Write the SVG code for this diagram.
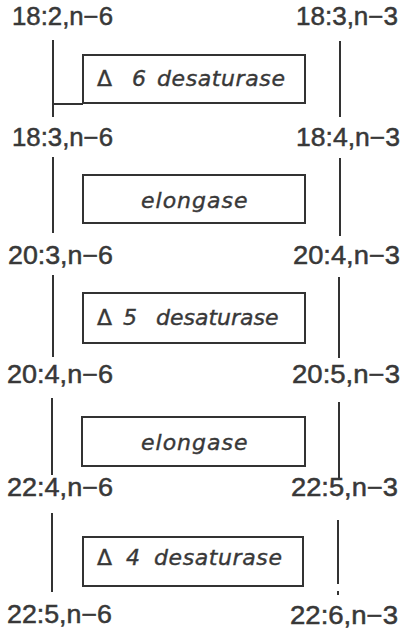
<svg xmlns="http://www.w3.org/2000/svg" width="401" height="629" viewBox="0 0 401 629">
  <style>
    .lbl { font-family: "Liberation Sans", Arial, sans-serif; font-size: 25px; fill: #383838; stroke: #383838; stroke-width: 0.5; }
    .enz { font-family: "DejaVu Sans", "Liberation Sans", sans-serif; font-size: 22px; font-style: oblique; fill: #383838; stroke: #383838; stroke-width: 0.4; }
    .up { font-style: normal; }
    .wide { letter-spacing: 0.6px; }
    .elo { letter-spacing: 1px; }
    .box { fill: #ffffff; stroke: #333333; stroke-width: 2; }
    .ln { stroke: #333333; stroke-width: 2; fill: none; }
  </style>

  <!-- fatty acid labels, n-6 series (left) -->
  <g id="n6-18-2"><text class="lbl" x="12" y="25" textLength="101" lengthAdjust="spacingAndGlyphs">18:2,n−6</text></g>
  <g id="n6-18-3"><text class="lbl" x="12" y="146" textLength="101" lengthAdjust="spacingAndGlyphs">18:3,n−6</text></g>
  <g id="n6-20-3"><text class="lbl" x="8" y="264" textLength="105" lengthAdjust="spacingAndGlyphs">20:3,n−6</text></g>
  <g id="n6-20-4"><text class="lbl" x="7" y="383" textLength="106" lengthAdjust="spacingAndGlyphs">20:4,n−6</text></g>
  <g id="n6-22-4"><text class="lbl" x="7" y="496" textLength="106" lengthAdjust="spacingAndGlyphs">22:4,n−6</text></g>
  <g id="n6-22-5"><text class="lbl" x="7" y="623" textLength="105" lengthAdjust="spacingAndGlyphs">22:5,n−6</text></g>

  <!-- fatty acid labels, n-3 series (right) -->
  <g id="n3-18-3"><text class="lbl" x="296" y="25" textLength="102" lengthAdjust="spacingAndGlyphs">18:3,n−3</text></g>
  <g id="n3-18-4"><text class="lbl" x="296" y="146" textLength="104" lengthAdjust="spacingAndGlyphs">18:4,n−3</text></g>
  <g id="n3-20-4"><text class="lbl" x="293" y="264" textLength="107" lengthAdjust="spacingAndGlyphs">20:4,n−3</text></g>
  <g id="n3-20-5"><text class="lbl" x="292" y="383" textLength="108" lengthAdjust="spacingAndGlyphs">20:5,n−3</text></g>
  <g id="n3-22-5"><text class="lbl" x="291" y="496" textLength="107" lengthAdjust="spacingAndGlyphs">22:5,n−3</text></g>
  <g id="n3-22-6"><text class="lbl" x="290" y="624" textLength="108" lengthAdjust="spacingAndGlyphs">22:6,n−3</text></g>

  <!-- enzyme boxes -->
  <g id="d6-desaturase">
    <rect class="box" x="83" y="55" width="222" height="48"/>
    <text class="enz" x="97" y="86"><tspan class="up">Δ</tspan><tspan x="132">6</tspan><tspan class="wide" x="157">desaturase</tspan></text>
  </g>
  <g id="elongase-1">
    <rect class="box" x="83" y="175" width="222" height="48"/>
    <text class="enz elo" x="141" y="208">elongase</text>
  </g>
  <g id="d5-desaturase">
    <rect class="box" x="83" y="293" width="222" height="50"/>
    <text class="enz" x="97" y="325"><tspan class="up">Δ</tspan><tspan x="123">5</tspan><tspan x="156">desaturase</tspan></text>
  </g>
  <g id="elongase-2">
    <rect class="box" x="82" y="417" width="223" height="49"/>
    <text class="enz elo" x="141" y="450">elongase</text>
  </g>
  <g id="d4-desaturase">
    <rect class="box" x="83" y="537" width="220" height="49"/>
    <text class="enz" x="97" y="565"><tspan class="up">Δ</tspan><tspan x="126">4</tspan><tspan class="wide" x="154">desaturase</tspan></text>
  </g>

  <!-- conversion lines -->
  <g id="connectors">
    <path class="ln" d="M53 40 V117 M53 104 H83"/>
    <path class="ln" d="M340 41 V117"/>
    <path class="ln" d="M53 157 V233"/>
    <path class="ln" d="M340 158 V236"/>
    <path class="ln" d="M53 275 V357"/>
    <path class="ln" d="M339 277 V358"/>
    <path class="ln" d="M52 398 V475"/>
    <path class="ln" d="M339 402 V478"/>
    <path class="ln" d="M52 513 V592"/>
    <path class="ln" d="M338 520 V584 M338 591 V595"/>
  </g>
</svg>
